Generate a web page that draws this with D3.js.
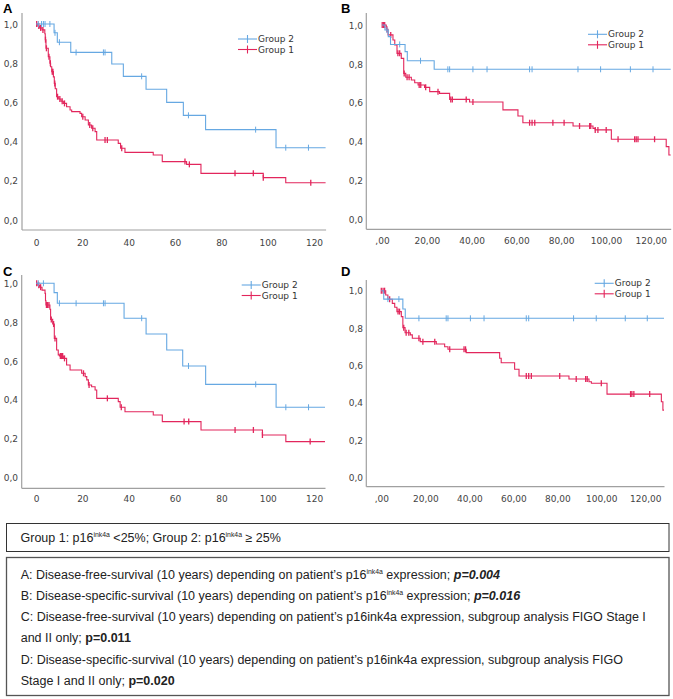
<!DOCTYPE html>
<html>
<head>
<meta charset="utf-8">
<script src="https://cdn.jsdelivr.net/npm/d3@7"></script>
<style>
  html, body { margin: 0; padding: 0; background: #fff; }
  svg { display: block; }
</style>
</head>
<body>
<script>
// ---------------- DATA ----------------
const panelIds = ["A", "B", "C", "D"];
const groupNames = ["Group 2", "Group 1"];

const yTicks = [0, 0.2, 0.4, 0.6, 0.8, 1.0];
const yTickLabels = ["0,0", "0,2", "0,4", "0,6", "0,8", "1,0"];
const xTicks = [0, 20, 40, 60, 80, 100, 120];
const xTickLabelsInt = ["0", "20", "40", "60", "80", "100", "120"];
const xTickLabelsDec = [",00", "20,00", "40,00", "60,00", "80,00", "100,00", "120,00"];

// Panel A – Group 2 (blue)
const aG2Times = [7.8, 9.2, 15.0, 32.7, 37.7, 47.5, 56.4, 63.6, 73.2, 103.6];
const aG2Surv = [0.955, 0.907, 0.855, 0.796, 0.733, 0.667, 0.600, 0.534, 0.461, 0.369];
const aG2Cens = [1, 2.4, 3.2, 3.9, 6, 8.2, 10.1, 17.3, 29.1, 29.8, 45.6, 65.8, 94.8, 107.8, 117.6];
// Panel A – Group 1 (red)
const aG1Times = [0.8, 1.6, 2.6, 3.8, 4.0, 4.3, 5.3, 6.0, 6.3, 6.8, 7.5, 7.9, 8.3, 8.9, 9.8, 10.8, 11.8, 13.2, 14.7, 15.4, 19.0, 19.7, 21.2, 22.6, 24.0, 25.5, 26.2, 35.5, 36.5, 38.4, 50.6, 54.5, 65.0, 71.2, 98.1, 107.8];
const aG1Surv = [0.99, 0.98, 0.97, 0.95, 0.92, 0.876, 0.833, 0.80, 0.782, 0.757, 0.73, 0.697, 0.67, 0.629, 0.617, 0.606, 0.595, 0.578, 0.561, 0.553, 0.544, 0.527, 0.51, 0.485, 0.468, 0.451, 0.408, 0.391, 0.366, 0.345, 0.332, 0.298, 0.284, 0.238, 0.216, 0.190];
const aG1Cens = [0.3, 1.2, 2.0, 3.0, 4.1, 4.5, 5.6, 6.2, 7.0, 7.3, 8.1, 9.3, 10.3, 11.3, 12.3, 20.2, 23.2, 24.5, 29.8, 30.8, 37.0, 64.3, 66.2, 85.9, 93.8, 98.1, 118.6];

// Panel B – Group 2 (blue)
const bG2Times = [1.3, 2.8, 3.8, 10.3, 11.3, 23.3];
const bG2Surv = [0.974, 0.94, 0.90, 0.863, 0.816, 0.772];
const bG2Cens = [2.2, 7.9, 17.2, 29.4, 30.2, 40.6, 46.9, 65.9, 67.0, 87.5, 97.6, 110.9, 121.0];
// Panel B – Group 1 (red)
const bG1Times = [1.9, 2.7, 4.9, 5.7, 6.7, 8.6, 9.7, 10.6, 13.1, 14.6, 16.1, 19.0, 21.3, 25.7, 30.2, 39.1, 54.0, 60.7, 62.9, 85.3, 94.2, 95.2, 102.4, 126.9, 128.1];
const bG1Surv = [0.978, 0.949, 0.923, 0.897, 0.854, 0.828, 0.751, 0.731, 0.717, 0.703, 0.691, 0.679, 0.657, 0.648, 0.617, 0.604, 0.563, 0.532, 0.497, 0.48, 0.468, 0.46, 0.412, 0.374, 0.331];
const bG1Cens = [0.1, 0.7, 1.2, 2.2, 3.9, 7.1, 7.9, 9.9, 11.2, 12.1, 16.6, 17.3, 19.5, 25.0, 30.7, 31.4, 37.6, 40.6, 65.9, 67.0, 68.2, 76.3, 81.3, 88.2, 92.7, 93.2, 95.2, 96.4, 100.1, 105.4, 112.8, 113.5, 114.3, 121.7];

// Panel C – Group 2 (blue)
const cG2Times = [7.8, 9.2, 38.0, 47.5, 56.4, 63.3, 73.2, 103.6];
const cG2Surv = [0.952, 0.897, 0.82, 0.739, 0.656, 0.574, 0.479, 0.361];
const cG2Cens = [1, 3.2, 10.1, 17.3, 29.1, 29.8, 45.6, 65.8, 94.8, 107.8, 117.6];
// Panel C – Group 1 (red)
const cG1Times = [0.8, 1.6, 2.6, 3.9, 4.1, 4.3, 6.0, 6.3, 7.2, 7.9, 8.9, 9.6, 10.1, 11.8, 13.2, 14.7, 19.7, 21.2, 21.9, 22.6, 24.0, 25.5, 26.2, 35.5, 36.3, 38.4, 50.6, 54.5, 71.2, 97.7, 107.8];
const cG1Surv = [0.99, 0.98, 0.965, 0.948, 0.91, 0.888, 0.866, 0.814, 0.79, 0.716, 0.656, 0.631, 0.625, 0.613, 0.579, 0.553, 0.536, 0.519, 0.502, 0.476, 0.467, 0.45, 0.407, 0.39, 0.361, 0.338, 0.321, 0.287, 0.244, 0.218, 0.184];
const cG1Cens = [0.3, 1.2, 2.0, 4.5, 5.0, 5.6, 6.6, 7.6, 8.2, 10.5, 11.0, 11.5, 12.3, 20.5, 22.9, 30.8, 36.8, 63.9, 65.9, 85.9, 93.8, 97.7, 118.3];

// Panel D – Group 2 (blue)
const dG2Times = [1.1, 9.8, 10.9];
const dG2Surv = [0.955, 0.902, 0.852];
const dG2Cens = [3.0, 8.0, 17.1, 29.5, 30.3, 40.5, 46.7, 65.9, 67.0, 87.4, 97.7, 110.9, 120.9];
// Panel D – Group 1 (red)
const dG1Times = [2.0, 3.0, 5.0, 6.1, 7.1, 9.1, 9.8, 10.8, 13.2, 14.1, 17.7, 25.0, 28.8, 30.3, 38.6, 53.8, 54.5, 60.6, 62.6, 85.3, 94.4, 95.5, 102.6, 127.3, 128.0];
const dG1Surv = [0.977, 0.954, 0.932, 0.911, 0.888, 0.861, 0.802, 0.775, 0.763, 0.745, 0.727, 0.714, 0.70, 0.686, 0.668, 0.638, 0.614, 0.579, 0.543, 0.527, 0.512, 0.504, 0.446, 0.405, 0.36];
const dG1Cens = [0.0, 0.8, 1.5, 3.8, 7.6, 8.3, 10.2, 11.3, 12.5, 17.1, 18.9, 24.3, 31.1, 37.6, 38.3, 65.9, 67.0, 68.2, 81.1, 88.6, 92.9, 93.6, 100.0, 113.3, 113.9, 114.8, 122.0];

// follow-up end per panel (months)
const followUpEnd = { A: 125, B: 128.9, C: 124.7, D: 128.5 };

// Caption texts
const legendBoxParts = [
  ["Group 1: p16", ""], ["ink4a", "sup"], [" <25%; Group 2: p16", ""], ["ink4a", "sup"], [" \u2265 25%", ""]
];
const captionLines = [
  [["A: Disease-free-survival (10 years) depending on patient\u2019s p16", ""], ["ink4a", "sup"], [" expression; ", ""], ["p=0.004", "bi"]],
  [["B: Disease-specific-survival (10 years) depending on patient\u2019s p16", ""], ["ink4a", "sup"], [" expression; ", ""], ["p=0.016", "bi"]],
  [["C: Disease-free-survival (10 years) depending on patient\u2019s p16ink4a expression, subgroup analysis FIGO Stage I", ""]],
  [["and II only; ", ""], ["p=0.011", "b"]],
  [["D: Disease-specific-survival (10 years) depending on patient\u2019s p16ink4a expression, subgroup analysis FIGO", ""]],
  [["Stage I and II only; ", ""], ["p=0.020", "b"]]
];

// ---------------- LAYOUT / STYLE ----------------
const colors = { g2: "#66a8e2", g1: "#e2265c" };
const layout = {
  A: { left: 36, right: 325.6, top: 24, bottom: 220, axisX: 22, axisY: 230, axisTop: 13, labelY: 243, labelX: 18, letter: [3, 12.5], legend: [238, 39], dec: false },
  B: { left: 382, right: 670.7, top: 25, bottom: 219.3, axisX: 366.3, axisY: 229.3, axisTop: 13, labelY: 241, labelX: 363, letter: [341, 12.5], legend: [588, 34.3], dec: true },
  C: { left: 36, right: 325, top: 283.3, bottom: 477.3, axisX: 21.7, axisY: 488.3, axisTop: 275, labelY: 499, labelX: 18, letter: [3, 275.5], legend: [241.7, 285], dec: false },
  D: { left: 381.3, right: 664, top: 290.7, bottom: 477.3, axisX: 366.3, axisY: 486.7, axisTop: 280, labelY: 499, labelX: 363, letter: [341, 275.5], legend: [594.7, 283.3], dec: true }
};

const seriesByPanel = {
  A: { g2: [aG2Times, aG2Surv, aG2Cens], g1: [aG1Times, aG1Surv, aG1Cens] },
  B: { g2: [bG2Times, bG2Surv, bG2Cens], g1: [bG1Times, bG1Surv, bG1Cens] },
  C: { g2: [cG2Times, cG2Surv, cG2Cens], g1: [cG1Times, cG1Surv, cG1Cens] },
  D: { g2: [dG2Times, dG2Surv, dG2Cens], g1: [dG1Times, dG1Surv, dG1Cens] }
};

const svg = d3.select("body").append("svg")
  .attr("width", 673).attr("height", 699)
  .style("background", "#fff");

const tickFont = "DejaVu Sans, Verdana, sans-serif";

function survAt(times, surv, t) {
  let s = 1;
  for (let i = 0; i < times.length; i++) if (times[i] <= t) s = surv[i];
  return s;
}

panelIds.forEach(id => {
  const L = layout[id];
  const tEnd = followUpEnd[id];
  const x = d3.scaleLinear().domain([0, tEnd]).range([L.left, L.right]);
  const y = d3.scaleLinear().domain([0, 1]).range([L.bottom, L.top]);
  const g = svg.append("g");

  // axis lines
  g.append("line").attr("x1", L.axisX).attr("x2", L.axisX).attr("y1", L.axisTop).attr("y2", L.axisY)
    .attr("stroke", "#a0a0a0").attr("stroke-width", 1.2);
  g.append("line").attr("x1", L.axisX).attr("x2", x(tEnd) + 0.5).attr("y1", L.axisY).attr("y2", L.axisY)
    .attr("stroke", "#a0a0a0").attr("stroke-width", 1.2);

  // y axis labels
  const yAx = d3.axisLeft(y).tickValues(yTicks).tickSize(0).tickPadding(0)
    .tickFormat((d, i) => yTickLabels[i]);
  const yg = g.append("g").attr("transform", `translate(${L.labelX},0)`).call(yAx);
  yg.select(".domain").remove();
  yg.selectAll("text").attr("font-family", tickFont).attr("font-size", 9).attr("fill", "#444").attr("dy", "0.35em");

  // x axis labels
  const xLabels = L.dec ? xTickLabelsDec : xTickLabelsInt;
  const xAx = d3.axisBottom(x).tickValues(xTicks).tickSize(0).tickPadding(0)
    .tickFormat((d, i) => xLabels[i]);
  const xg = g.append("g").attr("transform", `translate(0,${L.labelY})`).call(xAx);
  xg.select(".domain").remove();
  xg.selectAll("text").attr("font-family", tickFont).attr("font-size", 9).attr("fill", "#444")
    .attr("y", 0).attr("dy", "0.35em");

  // curves
  const line = d3.line().x(d => x(d[0])).y(d => y(d[1])).curve(d3.curveStepAfter);
  ["g1", "g2"].forEach(key => {
    const [times, surv, cens] = seriesByPanel[id][key];
    const pts = [[0, 1]].concat(times.map((t, i) => [t, surv[i]]));
    pts.push([tEnd, surv[surv.length - 1]]);
    g.append("path").attr("d", line(pts)).attr("fill", "none")
      .attr("stroke", colors[key]).attr("stroke-width", 1.1);
    g.selectAll(null).data(cens).enter().append("line")
      .attr("x1", d => x(d)).attr("x2", d => x(d))
      .attr("y1", d => y(survAt(times, surv, d)) - 3)
      .attr("y2", d => y(survAt(times, surv, d)) + 3)
      .attr("stroke", colors[key]).attr("stroke-width", key === "g1" ? 1.3 : 1);
  });

  // legend
  ["g2", "g1"].forEach((key, i) => {
    const lx = L.legend[0], ly = L.legend[1] + i * 10.5;
    g.append("line").attr("x1", lx).attr("x2", lx + 19).attr("y1", ly).attr("y2", ly)
      .attr("stroke", colors[key]).attr("stroke-width", 1.1);
    g.append("line").attr("x1", lx + 9.5).attr("x2", lx + 9.5).attr("y1", ly - 4).attr("y2", ly + 4)
      .attr("stroke", colors[key]).attr("stroke-width", 1.1);
    g.append("text").attr("x", lx + 20).attr("y", ly).attr("dy", "0.35em")
      .attr("font-family", tickFont).attr("font-size", 9).attr("fill", "#333")
      .text(groupNames[i]);
  });

  // panel letter
  svg.append("text").attr("x", L.letter[0]).attr("y", L.letter[1])
    .attr("font-family", "Liberation Sans, Arial, sans-serif").attr("font-weight", "bold")
    .attr("font-size", 13).attr("fill", "#000").text(id);
});

// ---------------- CAPTION BOXES ----------------
const capFont = "Liberation Sans, Arial, sans-serif";
const capSize = 12.5;

function writeParts(textSel, parts) {
  let pendingDy = 0;
  parts.forEach(([txt, style]) => {
    const ts = textSel.append("tspan").text(txt);
    if (style === "sup") {
      ts.attr("font-size", capSize * 0.55).attr("dy", -4.5 + pendingDy);
      pendingDy = 4.5;
      return;
    }
    if (pendingDy) { ts.attr("dy", pendingDy); pendingDy = 0; }
    if (style === "b") {
      ts.attr("font-weight", "bold");
    } else if (style === "bi") {
      ts.attr("font-weight", "bold").attr("font-style", "italic");
    }
  });
}

svg.append("rect").attr("x", 6.5).attr("y", 523.5).attr("width", 662.5).attr("height", 28)
  .attr("fill", "none").attr("stroke", "#333").attr("stroke-width", 1);
const t1 = svg.append("text").attr("x", 20.5).attr("y", 541.5)
  .attr("font-family", capFont).attr("font-size", capSize).attr("fill", "#222");
writeParts(t1, legendBoxParts);

svg.append("rect").attr("x", 6.5).attr("y", 557.5).attr("width", 662.5).attr("height", 138)
  .attr("fill", "none").attr("stroke", "#555").attr("stroke-width", 1.3);
captionLines.forEach((parts, i) => {
  const t = svg.append("text").attr("x", 20.7).attr("y", 578.5 + i * 21.3)
    .attr("font-family", capFont).attr("font-size", capSize).attr("fill", "#222");
  writeParts(t, parts);
});
</script>
</body>
</html>
